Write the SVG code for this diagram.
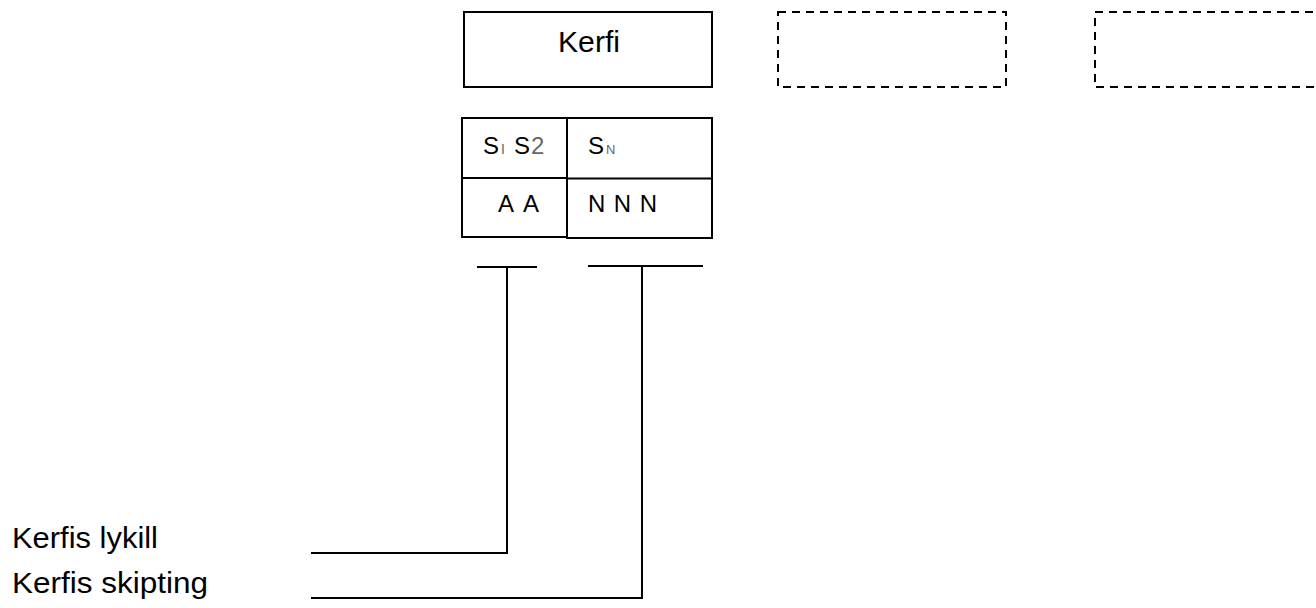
<svg xmlns="http://www.w3.org/2000/svg" width="1316" height="608" viewBox="0 0 1316 608">
<style>
.box{fill:none;stroke:#000;stroke-width:2}
.dash{fill:none;stroke:#000;stroke-width:2;stroke-dasharray:8 6}
.ln{fill:none;stroke:#000;stroke-width:2}
text{font-family:"Liberation Sans",Arial,sans-serif;fill:#000}
.t30{font-size:30px}
.t24{font-size:24px}
.g{fill:#666}
</style>
<rect width="1316" height="608" fill="#fff"/>
<g id="kerfi">
<rect class="box" x="464" y="12" width="248" height="75"/>
<text class="t30" x="558" y="52" textLength="62" lengthAdjust="spacingAndGlyphs">Kerfi</text>
</g>
<g id="dashed1">
<rect class="dash" x="778" y="12" width="228" height="75"/>
</g>
<g id="dashed2">
<rect class="dash" x="1095" y="12" width="240" height="75"/>
</g>
<g id="table">
<rect class="box" x="462" y="118" width="105" height="119"/>
<rect class="box" x="567" y="118" width="145" height="120"/>
<line class="ln" x1="462" y1="178" x2="567" y2="178"/>
<line class="ln" x1="567" y1="178.5" x2="712" y2="178.5"/>
<text class="t24" x="483" y="154">S<tspan class="g" x="501" font-size="14">I</tspan><tspan x="514">S</tspan><tspan class="g" x="531">2</tspan></text>
<text class="t24" x="588" y="154">S<tspan class="g" x="606" font-size="13">N</tspan></text>
<text class="t24" x="498" y="212" textLength="41" lengthAdjust="spacing">A A</text>
<text class="t24" x="588" y="212" textLength="69" lengthAdjust="spacing">N N N</text>
</g>
<g id="label-lykill">
<text class="t30" x="12" y="548" textLength="146" lengthAdjust="spacingAndGlyphs">Kerfis lykill</text>
</g>
<g id="label-skipting">
<text class="t30" x="12" y="593" textLength="196" lengthAdjust="spacingAndGlyphs">Kerfis skipting</text>
</g>
<g id="connectors">
<line class="ln" x1="477" y1="267" x2="537" y2="267"/>
<polyline class="ln" points="507,267 507,553 311,553"/>
<line class="ln" x1="588" y1="266" x2="703" y2="266"/>
<polyline class="ln" points="642,266 642,598 311,598"/>
</g>
</svg>
